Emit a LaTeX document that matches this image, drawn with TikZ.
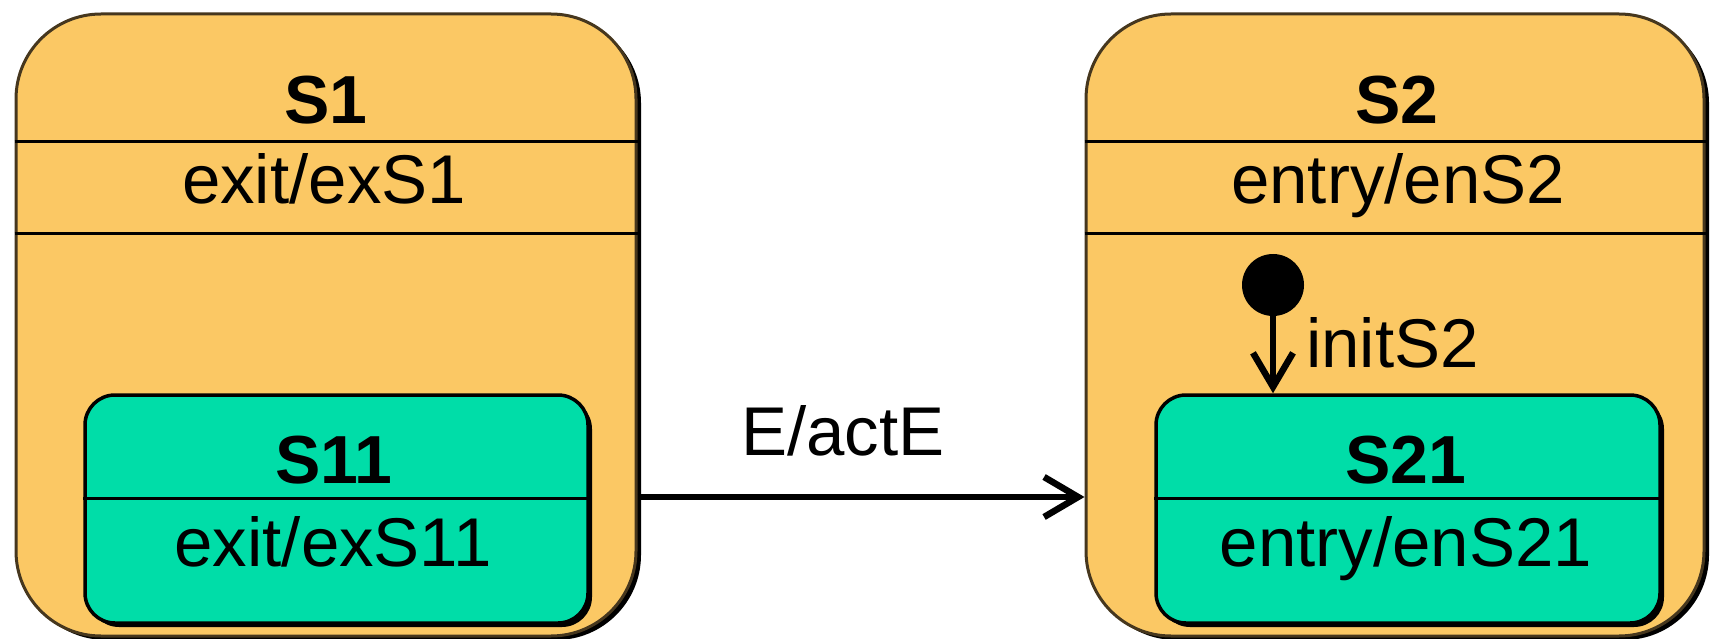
\documentclass[tikz,border=0pt]{standalone}
\usepackage{fontspec}
\setmainfont{Liberation Sans}
\usetikzlibrary{arrows.meta,shadows}
\definecolor{stOrange}{RGB}{251,200,100}
\definecolor{stGreen}{RGB}{0,221,168}
\definecolor{stEdge}{RGB}{70,55,30}
\begin{document}
\begin{tikzpicture}[x=1pt,y=-1pt,
  outerstate/.style={draw=stEdge, line width=3pt, fill=stOrange, rounded corners=85pt,
    minimum width=620pt, minimum height=622pt, inner sep=0pt,
    drop shadow={shadow xshift=5pt, shadow yshift=-4pt, opacity=1, fill=black}},
  innerstate/.style={draw=black, line width=3.5pt, fill=stGreen, rounded corners=30pt,
    minimum width=504pt, minimum height=228pt, inner sep=0pt,
    drop shadow={shadow xshift=4pt, shadow yshift=-4pt, opacity=1, fill=black}},
  divider/.style={draw=black, line width=3pt},
  txt/.style={font=\fontsize{69pt}{75pt}\selectfont, inner sep=0pt, anchor=base},
  ttl/.style={font=\fontsize{68pt}{75pt}\selectfont\bfseries, inner sep=0pt, anchor=base},
  trans/.style={draw=black, line width=6.5pt, -{Straight Barb[length=34pt,width=40pt]}},
  initdot/.style={circle, fill=black, minimum size=62pt, inner sep=0pt}
]
\useasboundingbox (0,0) rectangle (1711,639);

% outer states
\node[outerstate] (S1) at (326,325) {};
\node[outerstate, minimum width=618pt] (S2) at (1395,325) {};

% dividers of outer states
\draw[divider] (S1.west |- 0,142) -- (S1.east |- 0,142);
\draw[divider] (S1.west |- 0,234) -- (S1.east |- 0,234);
\draw[divider] (S2.west |- 0,142) -- (S2.east |- 0,142);
\draw[divider] (S2.west |- 0,234) -- (S2.east |- 0,234);

% outer texts
\node[ttl] (S1t) at (326,124) {S1};
\node[txt] (S1a) at (324,204) {exit/exS1};
\node[ttl] (S2t) at (1397,124) {S2};
\node[txt] (S2a) at (1398,204) {entry/enS2};

% inner states
\node[innerstate, minimum width=503pt] (S11) at (336.5,509) {};
\node[innerstate] (S21) at (1408,509) {};
\draw[divider] (S11.west |- 0,498) -- (S11.east |- 0,498);
\draw[divider] (S21.west |- 0,498) -- (S21.east |- 0,498);

\node[ttl] (S11t) at (334,483) {S11};
\node[txt] (S11a) at (333,566) {exit/exS11};
\node[ttl] (S21t) at (1406,483) {S21};
\node[txt] (S21a) at (1406,566) {entry/enS21};

% initial pseudostate
\node[initdot] (init) at (1273,285) {};
\draw[trans] (init) -- (init |- S21.north);
\node[txt, anchor=base west] (initl) at (1306,367) {initS2};

% transition
\coordinate (tstart) at (S1.east |- 0,497);
\coordinate (tend) at (S2.west |- 0,497);
\draw[trans] (tstart) -- (tend);
\node[txt] (tl) at (843,455) {E/actE};
\end{tikzpicture}
\end{document}
